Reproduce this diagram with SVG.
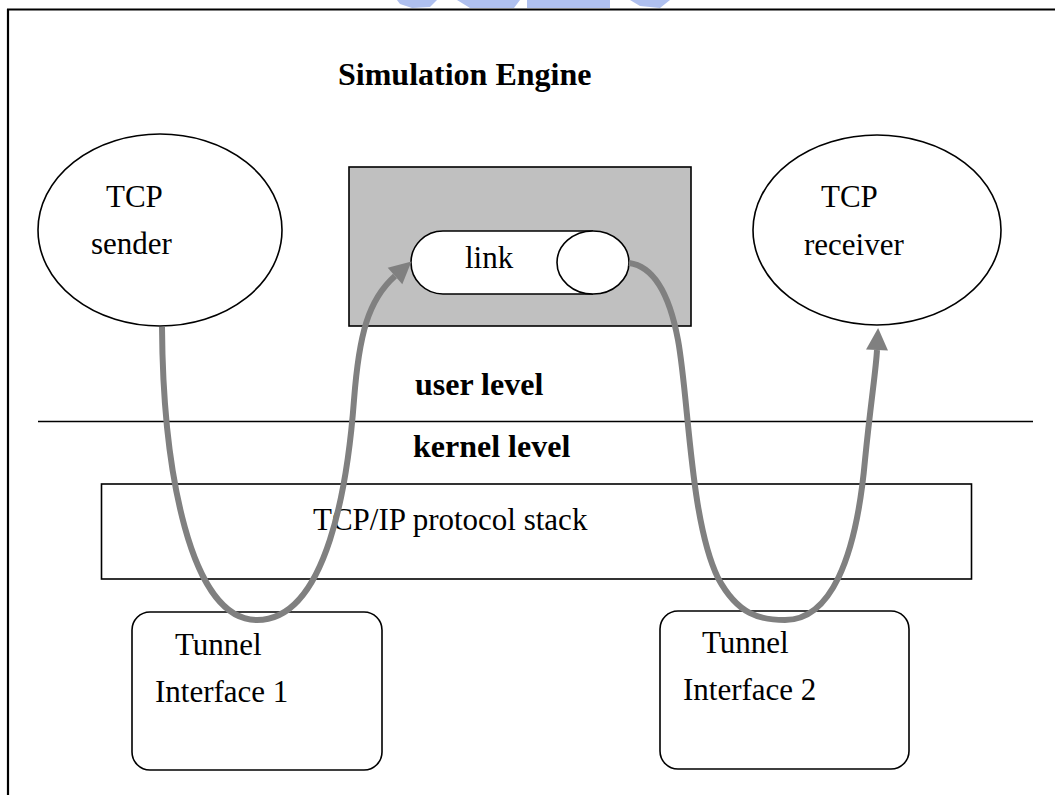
<svg xmlns="http://www.w3.org/2000/svg" width="1055" height="795" viewBox="0 0 1055 795">
  <style>
    .frame { stroke: #000; stroke-width: 2.2; fill: none; }
    .shape { stroke: #000; stroke-width: 1.6; fill: #fff; }
    .txt { font-family: "Liberation Serif", "Times New Roman", serif; font-size: 31px; fill: #000; }
    .bold { font-weight: bold; font-size: 32px; }
    .flow { stroke: #808080; stroke-width: 6; fill: none; }
  </style>
  <defs>
    <marker id="head" markerUnits="userSpaceOnUse" markerWidth="24" markerHeight="24" refX="0" refY="11" orient="auto" overflow="visible">
      <path d="M0,0 L22,11 L0,22 z" fill="#808080"/>
    </marker>
  </defs>

  <rect width="1055" height="795" fill="#fff"/>

  <!-- emblem fragment along the top edge -->
  <g id="emblem" fill="#afc0ef">
    <path d="M397,0 L437,0 L430,7 L412,8 L400,4 z"/>
    <path d="M457,0 L520,0 L514,8 L470,8 z"/>
    <rect x="527" y="0" width="83" height="8"/>
    <path d="M630,0 L670,0 L660,8 L640,6 z"/>
  </g>

  <!-- page frame -->
  <g id="frame">
    <line class="frame" x1="7" y1="9.5" x2="1055" y2="9.5"/>
    <line class="frame" x1="8" y1="9" x2="8" y2="795"/>
  </g>

  <text id="title" class="txt bold" x="338" y="85">Simulation Engine</text>

  <g id="tcp-sender">
    <ellipse class="shape" cx="160" cy="230" rx="122" ry="96"/>
    <text class="txt" x="106" y="207">TCP</text>
    <text class="txt" x="91" y="254">sender</text>
  </g>

  <g id="tcp-receiver">
    <ellipse class="shape" cx="877" cy="230" rx="124" ry="95"/>
    <text class="txt" x="821" y="207">TCP</text>
    <text class="txt" x="804" y="255">receiver</text>
  </g>

  <g id="link-module">
    <rect x="349" y="167" width="342" height="159" fill="#c0c0c0" stroke="#000" stroke-width="1.6"/>
    <path class="shape" d="M593,231 L443,231 A32,31.5 0 0 0 443,294 L593,294"/>
    <ellipse class="shape" cx="593" cy="262.5" rx="36" ry="31.5"/>
    <text class="txt" x="465" y="268">link</text>
  </g>

  <g id="level-divider">
    <line x1="38" y1="421.5" x2="1033" y2="421.5" stroke="#000" stroke-width="1.6"/>
    <text class="txt bold" x="415" y="395">user level</text>
    <text class="txt bold" x="413" y="457">kernel level</text>
  </g>

  <g id="protocol-stack">
    <rect class="shape" x="101.5" y="484" width="870" height="95"/>
    <text class="txt" x="313" y="530">TCP/IP protocol stack</text>
  </g>

  <g id="tunnel-1">
    <rect class="shape" x="132" y="612" width="250" height="158" rx="18"/>
    <text class="txt" x="175" y="655">Tunnel</text>
    <text class="txt" x="155" y="702">Interface 1</text>
  </g>

  <g id="tunnel-2">
    <rect class="shape" x="660" y="611" width="249" height="158" rx="18"/>
    <text class="txt" x="702" y="653">Tunnel</text>
    <text class="txt" x="683" y="700">Interface 2</text>
  </g>

  <g id="connectors">
    <path class="flow" marker-end="url(#head)" d="M162,327 C163,470 190,620 257,620 C328,620 348,480 354,400 C359,335 368,300 395,276"/>
    <path class="flow" marker-end="url(#head)" d="M629,263 C652,266 669,292 678,340 C689,400 690,520 718,578 C738,615 760,620 785,620 C830,620 856,560 865,460 C871,400 876,370 877,350"/>
  </g>
</svg>
